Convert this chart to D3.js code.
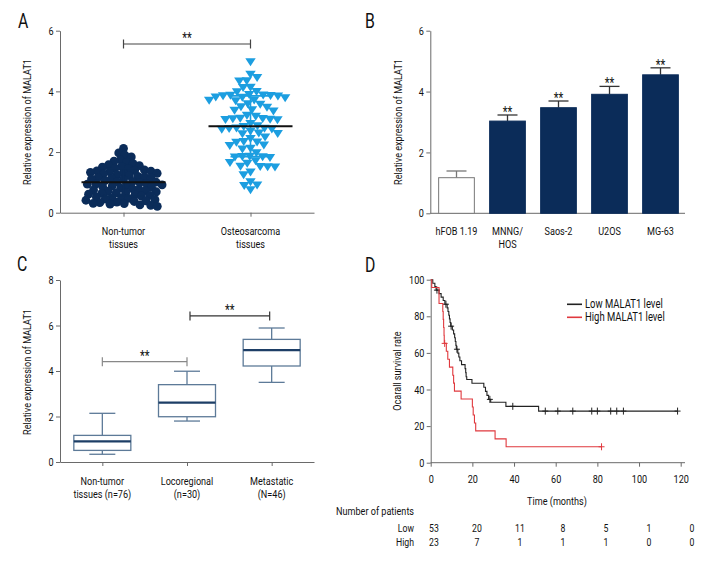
<!DOCTYPE html>
<html><head><meta charset="utf-8">
<script src="https://cdn.jsdelivr.net/npm/d3@7"></script>
<style>
body{margin:0;background:#fff}
svg text{font-family:Roboto,"Liberation Sans",sans-serif;fill:#111}
</style></head><body>
<svg id="c" width="720" height="576"></svg>
<script>
// ---------- Panel A data ----------
const groupsA = ["Non-tumor\ntissues", "Osteosarcoma\ntissues"];
const nonTumorValues = [2.12,1.97,1.90,1.84,1.74,1.70,1.66,1.62,1.58,1.55,1.52,1.50,1.47,1.45,
  1.41,1.39,1.38,1.37,1.35,1.33,1.31,1.30,1.28,1.25,1.22,1.20,1.18,1.16,1.15,1.13,1.11,1.09,
  1.06,1.03,1.02,1.01,0.99,0.97,0.95,0.94,0.92,0.90,0.88,0.86,0.84,0.81,0.79,0.77,0.75,0.73,
  0.71,0.69,0.67,0.65,0.64,0.61,0.59,0.57,0.55,0.52,0.50,0.49,0.47,0.45,0.43,0.41,0.39,0.37,
  0.35,0.33,0.31,0.30,0.28,0.26,0.24,0.21];
const osteoValues = [4.98,4.57,4.46,4.36,4.35,4.14,4.13,4.00,3.99,3.90,3.89,3.88,3.87,3.86,3.85,
  3.82,3.81,3.80,3.72,3.71,3.70,3.60,3.58,3.50,3.48,3.40,3.38,3.36,3.22,3.19,3.12,3.11,3.10,3.09,
  3.08,3.07,2.95,2.87,2.85,2.80,2.79,2.78,2.77,2.76,2.70,2.63,2.62,2.61,2.50,2.45,2.35,2.34,2.33,
  2.24,2.22,2.13,2.11,1.98,1.87,1.86,1.85,1.84,1.83,1.72,1.66,1.64,1.54,1.53,1.52,1.51,1.35,1.26,
  1.03,0.92,0.90,0.76];
const meanA = [1.0, 2.85];
const sdA = [0.45, 1.0];
const yTicksA = [0, 2, 4, 6];

// ---------- Panel B data ----------
const cellLines = ["hFOB 1.19", "MNNG/\nHOS", "Saos-2", "U2OS", "MG-63"];
const cellMeans = [1.17, 3.03, 3.47, 3.91, 4.55];
const cellErr = [0.22, 0.20, 0.22, 0.26, 0.23];
const cellSig = ["", "**", "**", "**", "**"];
const yTicksB = [0, 2, 4, 6];

// ---------- Panel C data ----------
const groupsC = ["Non-tumor\ntissues (n=76)", "Locoregional\n(n=30)", "Metastatic\n(N=46)"];
const boxMin = [0.34, 1.80, 3.50];
const boxQ1  = [0.51, 1.99, 4.22];
const boxMed = [0.91, 2.61, 4.92];
const boxQ3  = [1.17, 3.40, 5.39];
const boxMax = [2.14, 3.99, 5.89];
const yTicksC = [0, 2, 4, 6, 8];

// ---------- Panel D data ----------
const lowTimes = [1,2,2.6,4,5,6,6.8,7.9,8.3,8.7,9,9.3,9.6,10.4,11,11.5,11.8,12.1,12.3,13,13.5,14,14.8,16.5,16.8,17,17.3,19.8,25.5,26.3,27,27.8,28.8,36.1,51.8];
const lowSurv  = [98.1,96.2,94.3,92.4,90.5,88.6,86.6,84.6,82.6,80.6,78.6,76.6,74.6,72.5,70.4,68.3,66.2,64.1,62.0,59.9,57.8,55.7,53.6,51.4,49.2,47.0,45.5,43.4,41.2,39.0,36.8,34.6,33.0,30.8,28.2];
const lowCensor = [3.0,7.3,9.8,12.6,28.4,39.4,55,61,68.2,77.3,80,86.4,89.3,92.5,118.5];
const highTimes = [0.5,4,5.8,6.0,6.2,6.4,6.5,7.5,8.2,9,10.6,11,11.4,14.6,20,20.4,21,21.6,30.9,36.2];
const highSurv  = [95.7,87.0,82.6,78.3,73.9,69.6,65.2,60.9,56.5,52.2,47.8,43.5,39.1,34.8,30.4,26.1,21.7,17.4,13.0,8.7];
const highCensor = [6.7, 82];
const xTicksD = [0,20,40,60,80,100,120];
const yTicksD = [0,20,40,60,80,100];
const riskTimes = [0,20,40,60,80,100,120];
const riskLow  = [53,20,11,8,5,1,0];
const riskHigh = [23,7,1,1,1,0,0];

// ---------- drawing ----------
const svg = d3.select("#c");
const AX = "#6a6a6a";
const NAVY = "#0b2c59";
const SKY = "#1c9ee0";
const FS = 11.5;

// horizontal text compression (condensed look)
const probe = svg.append("text").attr("font-size", FS).text("Relative expression of MALAT1");
const SX = Math.min(1, 126 / probe.node().getComputedTextLength());
probe.remove();

function T(parent, x, y, str, size, anchor, fill){
  return parent.append("text").attr("transform", `translate(${x},${y}) scale(${SX},1)`)
    .attr("text-anchor", anchor || "start").attr("font-size", size || FS).attr("fill", fill || "#111").text(str);
}
function styleAxis(g){
  g.selectAll("path,line").attr("stroke", AX).attr("stroke-width", 1);
  g.selectAll("text").attr("font-size", FS).attr("fill", "#111").attr("transform", `scale(${SX},1)`);
}
function multiLabels(g, scale, names, y, offset){
  names.forEach(n => {
    const t = g.append("text").attr("text-anchor","middle").attr("font-size",FS)
      .attr("transform", `translate(${scale(n) + (offset||0)},${y}) scale(${SX},1)`);
    n.split("\n").forEach((line,i) => t.append("tspan").attr("x", 0).attr("dy", i===0?0:13).text(line));
  });
}
function yLabel(text, x, y){
  svg.append("text").attr("transform", `translate(${x},${y}) rotate(-90) scale(${SX},1)`)
    .attr("text-anchor","middle").attr("font-size",FS).text(text);
}
function letter(t, x, y){ T(svg, x, y, t, 20); }
function bracket(x1, x2, y, color){
  const g = svg.append("g").attr("stroke", color).attr("stroke-width",1.2);
  g.append("line").attr("x1",x1).attr("x2",x2).attr("y1",y).attr("y2",y);
  g.append("line").attr("x1",x1).attr("x2",x1).attr("y1",y-4.5).attr("y2",y+4.5);
  g.append("line").attr("x1",x2).attr("x2",x2).attr("y1",y-4.5).attr("y2",y+4.5);
  T(svg, (x1+x2)/2, y-1, "**", 14, "middle", "#333");
}
function swarm(values, y, cx, D){
  const pts = values.map(v => ({v, y: y(v)})).sort((a,b) => b.v - a.v);
  const placed = [];
  for (const p of pts){
    const iv = [];
    for (const q of placed){
      const dy = Math.abs(q.y - p.y);
      if (dy < D){ const r = Math.sqrt(D*D - dy*dy); iv.push([q.x - r, q.x + r]); }
    }
    const cands = [cx];
    iv.forEach(([a,b]) => cands.push(a, b));
    cands.sort((a,b) => Math.abs(a-cx) - Math.abs(b-cx));
    for (const c of cands){
      if (!iv.some(([a,b]) => c > a + 1e-6 && c < b - 1e-6)){ p.x = c; break; }
    }
    placed.push(p);
  }
  return placed;
}
const fmt = d3.format("d");

// ===== Panel A =====
letter("A", 18, 28);
const yA = d3.scaleLinear().domain([0,6]).range([212.7, 30.7]);
const xA = d3.scalePoint().domain(groupsA).range([60, 314]).padding(0.5);
styleAxis(svg.append("g").attr("transform","translate(60,0)")
  .call(d3.axisLeft(yA).tickValues(yTicksA).tickFormat(fmt).tickSize(4).tickPadding(4).tickSizeOuter(0)));
styleAxis(svg.append("g").attr("transform","translate(0,212.7)")
  .call(d3.axisBottom(xA).tickSize(4).tickFormat("").tickSizeOuter(0)));
multiLabels(svg.append("g"), xA, groupsA, 235);
yLabel("Relative expression of MALAT1", 31, 122);

const ntPts = swarm(nonTumorValues, yA, xA(groupsA[0]), 6.6);
svg.append("g").selectAll("circle").data(ntPts).join("circle")
  .attr("cx", d => d.x).attr("cy", d => d.y).attr("r", 4.4).attr("fill", NAVY);
const osPts = swarm(osteoValues, yA, xA(groupsA[1]), 7.4);
svg.append("g").selectAll("path").data(osPts).join("path")
  .attr("d", "M-5.2,-3.3L5.2,-3.3L0,4.7Z")
  .attr("transform", d => `translate(${d.x},${d.y})`).attr("fill", SKY);
groupsA.forEach((gname, i) => {
  const cx = xA(gname), col = i === 0 ? NAVY : SKY;
  const g = svg.append("g").attr("stroke", col).attr("stroke-width", 1.6);
  g.append("line").attr("x1",cx).attr("x2",cx).attr("y1",yA(meanA[i]-sdA[i])).attr("y2",yA(meanA[i]+sdA[i]));
  [meanA[i]-sdA[i], meanA[i]+sdA[i]].forEach(v =>
    g.append("line").attr("x1",cx-20).attr("x2",cx+20).attr("y1",yA(v)).attr("y2",yA(v)));
  svg.append("line").attr("x1",cx-42).attr("x2",cx+42).attr("y1",yA(meanA[i])).attr("y2",yA(meanA[i]))
    .attr("stroke","#111").attr("stroke-width",2);
});
bracket(xA(groupsA[0]), xA(groupsA[1]), 44, "#444");

// ===== Panel B =====
letter("B", 365, 28);
const yB = d3.scaleLinear().domain([0,6]).range([213.3, 30.7]);
const xB = d3.scaleBand().domain(cellLines).range([431, 686]).paddingInner(0.3).paddingOuter(0.15);
styleAxis(svg.append("g").attr("transform","translate(430.3,0)")
  .call(d3.axisLeft(yB).tickValues(yTicksB).tickFormat(fmt).tickSize(4).tickPadding(4).tickSizeOuter(0)));
const gxB = svg.append("g").attr("transform","translate(0,213.3)")
  .call(d3.axisBottom(xB).tickSize(0).tickFormat("").tickSizeOuter(0));
gxB.select(".domain").attr("d", "M430.3,0H685");
styleAxis(gxB);
multiLabels(svg.append("g"), xB, cellLines, 235, xB.bandwidth()/2);
yLabel("Relative expression of MALAT1", 402, 122);
cellLines.forEach((c, i) => {
  const x0 = xB(c), bw = xB.bandwidth(), cx = x0 + bw/2;
  const errCol = i === 0 ? "#777" : "#333";
  svg.append("line").attr("x1",cx).attr("x2",cx).attr("y1",yB(cellMeans[i])).attr("y2",yB(cellMeans[i]+cellErr[i]))
    .attr("stroke",errCol).attr("stroke-width",1.3);
  svg.append("line").attr("x1",cx-10).attr("x2",cx+10).attr("y1",yB(cellMeans[i]+cellErr[i])).attr("y2",yB(cellMeans[i]+cellErr[i]))
    .attr("stroke",errCol).attr("stroke-width",1.3);
  svg.append("rect").attr("x",x0).attr("width",bw).attr("y",yB(cellMeans[i])).attr("height",yB(0)-yB(cellMeans[i]))
    .attr("fill", i === 0 ? "#fff" : NAVY).attr("stroke", i === 0 ? "#777" : NAVY).attr("stroke-width",1);
  if (cellSig[i]) T(svg, cx, yB(cellMeans[i]+cellErr[i]) + 2, cellSig[i], 14, "middle", "#333");
});

// ===== Panel C =====
letter("C", 17, 271);
const yC = d3.scaleLinear().domain([0,8]).range([462, 280]);
const xC = d3.scalePoint().domain(groupsC).range([60, 314]).padding(0.5);
styleAxis(svg.append("g").attr("transform","translate(60,0)")
  .call(d3.axisLeft(yC).tickValues(yTicksC).tickFormat(fmt).tickSize(4).tickPadding(4).tickSizeOuter(0)));
styleAxis(svg.append("g").attr("transform","translate(0,462)")
  .call(d3.axisBottom(xC).tickSize(4).tickFormat("").tickSizeOuter(0)));
multiLabels(svg.append("g"), xC, groupsC, 485);
yLabel("Relative expression of MALAT1", 31, 372);
const BOXC = "#5d7a98";
groupsC.forEach((gname, i) => {
  const cx = xC(gname), hw = 28.5, cw = 13;
  const g = svg.append("g").attr("stroke", BOXC).attr("stroke-width", 1.3).attr("fill","none");
  g.append("line").attr("x1",cx).attr("x2",cx).attr("y1",yC(boxMin[i])).attr("y2",yC(boxQ1[i]));
  g.append("line").attr("x1",cx).attr("x2",cx).attr("y1",yC(boxQ3[i])).attr("y2",yC(boxMax[i]));
  g.append("line").attr("x1",cx-cw).attr("x2",cx+cw).attr("y1",yC(boxMin[i])).attr("y2",yC(boxMin[i]));
  g.append("line").attr("x1",cx-cw).attr("x2",cx+cw).attr("y1",yC(boxMax[i])).attr("y2",yC(boxMax[i]));
  g.append("rect").attr("x",cx-hw).attr("width",2*hw).attr("y",yC(boxQ3[i])).attr("height",yC(boxQ1[i])-yC(boxQ3[i])).attr("fill","#fff");
  svg.append("line").attr("x1",cx-hw).attr("x2",cx+hw).attr("y1",yC(boxMed[i])).attr("y2",yC(boxMed[i]))
    .attr("stroke","#1d3e66").attr("stroke-width",2.2);
});
bracket(xC(groupsC[0]), xC(groupsC[1]), yC(4.41), "#888");
bracket(xC(groupsC[1]) + 3, xC(groupsC[2]) - 2, yC(6.42), "#333");

// ===== Panel D =====
letter("D", 365, 272);
const xD = d3.scaleLinear().domain([0,120]).range([430.7, 680.7]);
const yD = d3.scaleLinear().domain([0,100]).range([462.7, 279.7]);
styleAxis(svg.append("g").attr("transform","translate(430.7,0)")
  .call(d3.axisLeft(yD).tickValues(yTicksD).tickFormat(fmt).tickSize(4).tickPadding(4).tickSizeOuter(0)));
const gxD = svg.append("g").attr("transform","translate(0,462.7)")
  .call(d3.axisBottom(xD).tickValues(xTicksD).tickFormat(fmt).tickSize(4).tickPadding(8).tickSizeOuter(0));
gxD.select(".domain").attr("d", "M430.7,0H685");
styleAxis(gxD);
yLabel("Ocarall survival rate", 401, 371);
T(svg, 557, 505, "Time (months)", FS, "middle");

function kmPoints(times, surv, endT){
  const pts = [[0,100]];
  times.forEach((t,i) => pts.push([t, surv[i]]));
  pts.push([endT, surv[surv.length-1]]);
  return pts;
}
function survAt(times, surv, t){
  let s = 100;
  times.forEach((tt,i) => { if (tt <= t) s = surv[i]; });
  return s;
}
const kmLine = d3.line().x(d => xD(d[0])).y(d => yD(d[1])).curve(d3.curveStepAfter);
[[lowTimes, lowSurv, lowCensor, "#222"], [highTimes, highSurv, highCensor, "#e0393e"]].forEach(([Ts,S,C,col]) => {
  const endT = d3.max(C);
  svg.append("path").attr("d", kmLine(kmPoints(Ts,S,endT))).attr("fill","none").attr("stroke",col).attr("stroke-width",1.1);
  const g = svg.append("g").attr("stroke", col).attr("stroke-width", 1);
  C.forEach(t => {
    const x = xD(t), y = yD(survAt(Ts,S,t));
    g.append("line").attr("x1",x).attr("x2",x).attr("y1",y-3.5).attr("y2",y+3.5);
    g.append("line").attr("x1",x-3).attr("x2",x+3).attr("y1",y).attr("y2",y);
  });
});
[["Low MALAT1 level","#222",304.3],["High MALAT1 level","#e0393e",317.3]].forEach(([t,c,y]) => {
  svg.append("line").attr("x1",567).attr("x2",582).attr("y1",y).attr("y2",y).attr("stroke",c).attr("stroke-width",1.6);
  T(svg, 585, y + 4, t, FS + 0.5);
});
const xR = d3.scalePoint().domain(riskTimes).range([434, 692]);
T(svg, 336, 515, "Number of patients");
T(svg, 414, 532, "Low", 11, "end");
T(svg, 414, 545.5, "High", 11, "end");
riskTimes.forEach((t,i) => {
  T(svg, xR(t), 532, riskLow[i], 11, "middle");
  T(svg, xR(t), 545.5, riskHigh[i], 11, "middle");
});
</script>
</body></html>
